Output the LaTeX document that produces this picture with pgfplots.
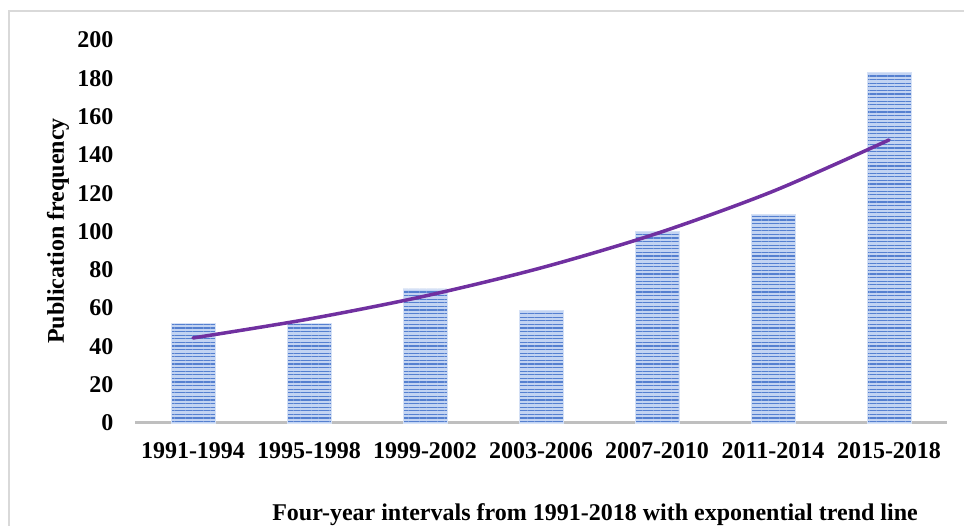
\documentclass[border=0pt]{standalone}
\usepackage{fontspec}
\setmainfont{Liberation Serif}
\usepackage{pgfplots}
\pgfplotsset{compat=1.18}
\usetikzlibrary{patterns.meta}
\definecolor{barfill}{HTML}{C3D4F2}
\definecolor{barline}{HTML}{5580D0}
\definecolor{trend}{HTML}{7030A0}
\definecolor{axisgray}{HTML}{BFBFBF}
\definecolor{framegray}{HTML}{D9D9D9}
\newcommand{\bigfont}{\fontsize{24}{27}\selectfont\bfseries}
\begin{document}
\begin{tikzpicture}[x=1pt,y=1pt]
\useasboundingbox (0,0) rectangle (964,-526);
\draw[framegray, line width=1.5pt] (9,-540) -- (9,-11) -- (980,-11);
\begin{axis}[
  at={(135pt,-40pt)}, anchor=north west,
  scale only axis, width=812pt, height=383pt,
  xmin=-0.5, xmax=6.5, ymin=0, ymax=200,
  ytick={0,20,...,200},
  xtick={0,...,6},
  xticklabels={1991-1994,1995-1998,1999-2002,2003-2006,2007-2010,2011-2014,2015-2018},
  axis x line*=bottom, axis y line*=left,
  y axis line style={draw=none},
  x axis line style={axisgray, line width=3pt},
  major tick length=0pt,
  tick label style={font=\bigfont},
  /pgf/number format/assume math mode=true,
  yticklabel style={xshift=-18pt},
  xticklabel style={yshift=-16pt},
  clip=false,
]
\addplot[ybar, bar width=44pt, fill=barfill, draw=barfill!70!white,
  postaction={pattern={Lines[angle=0,distance=3.6pt,line width=1.3pt]}, pattern color=barline}]
  coordinates {(0,52) (1,52) (2,70) (3,59) (4,100) (5,109) (6,183)};
\addplot[trend, line width=3.5pt, smooth, line cap=round]
  coordinates {(0,44.4) (1,54.3) (2,66.3) (3,81.0) (4,99.0) (5,121.0) (6,147.8)};
\end{axis}
\node[font=\bigfont, rotate=90] at (58,-231) {Publication frequency};
\node[font=\bigfont, anchor=base] at (595,-520) {Four-year intervals from 1991-2018 with exponential trend line};
\end{tikzpicture}
\end{document}
